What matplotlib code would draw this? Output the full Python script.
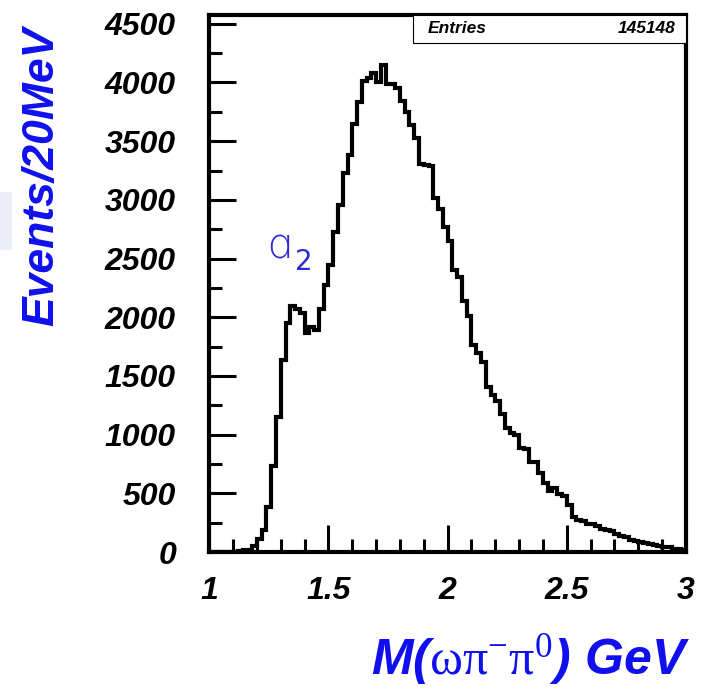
import numpy as np
import matplotlib
matplotlib.use('Agg')
import matplotlib.pyplot as plt
from matplotlib.patches import Rectangle
from matplotlib.ticker import MultipleLocator

# M(omega pi- pi0) histogram, 20 MeV bins from 1.0 to 3.0 GeV
bin_lo = 1.0
bin_width = 0.02
counts = [
    0, 0, 0, 0, 0, 0, 5, 15, 20, 55,                              # 1.00-1.18
    110, 190, 380, 730, 1150, 1635, 1955, 2095, 2070, 2035,       # 1.20-1.38
    1865, 1915, 1890, 2070, 2275, 2445, 2730, 2955, 3225, 3380,   # 1.40-1.58
    3650, 3835, 4010, 4040, 4085, 4000, 4145, 3985, 3985, 3950,   # 1.60-1.78
    3840, 3750, 3640, 3530, 3305, 3300, 3285, 3020, 2925, 2765,   # 1.80-1.98
    2650, 2405, 2345, 2140, 2010, 1765, 1695, 1620, 1410, 1340,   # 2.00-2.18
    1285, 1180, 1060, 1010, 1000, 885, 880, 770, 765, 670,        # 2.20-2.38
    585, 520, 545, 495, 480, 400, 300, 275, 265, 240,             # 2.40-2.58
    235, 225, 200, 190, 180, 150, 140, 130, 105, 95,              # 2.60-2.78
    85, 75, 70, 60, 55, 45, 40, 30, 25, 20,                       # 2.80-2.98
]
entries = 145148
x_ticks = [1, 1.5, 2, 2.5, 3]
x_tick_labels = ['1', '1.5', '2', '2.5', '3']
y_ticks = [0, 500, 1000, 1500, 2000, 2500, 3000, 3500, 4000, 4500]

blue = '#1010ee'
plt.rcParams['mathtext.fontset'] = 'custom'
plt.rcParams['mathtext.rm'] = 'Liberation Serif'
plt.rcParams['mathtext.bf'] = 'Liberation Sans:italic:bold'
plt.rcParams['mathtext.it'] = 'Liberation Sans:italic:bold'

label_font = dict(family='Liberation Sans', weight='bold', style='italic')


def create_plot():
    fig = plt.figure(figsize=(7.15, 6.91), dpi=100)
    ax = fig.add_axes([0.2927, 0.2011, 0.6667, 0.7772])

    edges = bin_lo + bin_width * np.arange(len(counts) + 1)
    ax.stairs(counts, edges, color='black', linewidth=3, baseline=None)

    ax.set_xlim(1, 3)
    ax.set_ylim(0, 4575)
    ax.set_xticks(x_ticks)
    ax.set_xticklabels(x_tick_labels)
    ax.set_yticks(y_ticks)
    ax.xaxis.set_minor_locator(MultipleLocator(0.1))
    ax.yaxis.set_minor_locator(MultipleLocator(250))
    ax.tick_params(which='both', direction='in', width=2.2, color='black')
    ax.tick_params(which='major', length=19.5)
    ax.tick_params(which='minor', length=9.5)
    ax.tick_params(axis='y', which='major', pad=24)
    ax.tick_params(axis='x', which='major', pad=17)
    for lab in ax.get_xticklabels() + ax.get_yticklabels():
        lab.set_fontproperties(matplotlib.font_manager.FontProperties(size=23, **label_font))
    for sp in ax.spines.values():
        sp.set_linewidth(3)

    # stats box
    ax.add_patch(Rectangle((0.428, 0.9484), 0.572, 0.0516, transform=ax.transAxes,
                           facecolor='white', edgecolor='black', linewidth=0.8, zorder=5))
    ax.text(0.459, 0.974, 'Entries', transform=ax.transAxes, ha='left', va='center',
            fontsize=12.5, zorder=6, **label_font)
    ax.text(0.977, 0.974, str(entries), transform=ax.transAxes, ha='right', va='center',
            fontsize=12.5, zorder=6, **label_font)

    # a2 annotation
    ax.text(1.235, 2610, '\u0251', color='#2a2ad8', fontsize=30, family='DejaVu Sans',
            ha='left', va='center', fontweight='light')
    ax.text(1.36, 2470, '2', color='#2a2ad8', fontsize=20, family='DejaVu Sans',
            ha='left', va='center')

    fig.text(42 / 715, 1 - 176 / 691, 'Events/20MeV', rotation=90, ha='center', va='center',
             color=blue, fontsize=32, **label_font)
    fig.text(690 / 715, 1 - 674 / 691,
             r'$\mathbf{M(}\mathrm{\omega\pi^{-}\pi^{0}}\mathbf{)\ GeV}$',
             ha='right', va='baseline', color=blue, fontsize=36)

    fig.patches.append(Rectangle((0, 1 - 250 / 691), 12 / 715, 58 / 691,
                                 transform=fig.transFigure, facecolor='#eceef7',
                                 edgecolor='none', zorder=0))

    plt.savefig('out.png', dpi=100)


if __name__ == '__main__':
    create_plot()
